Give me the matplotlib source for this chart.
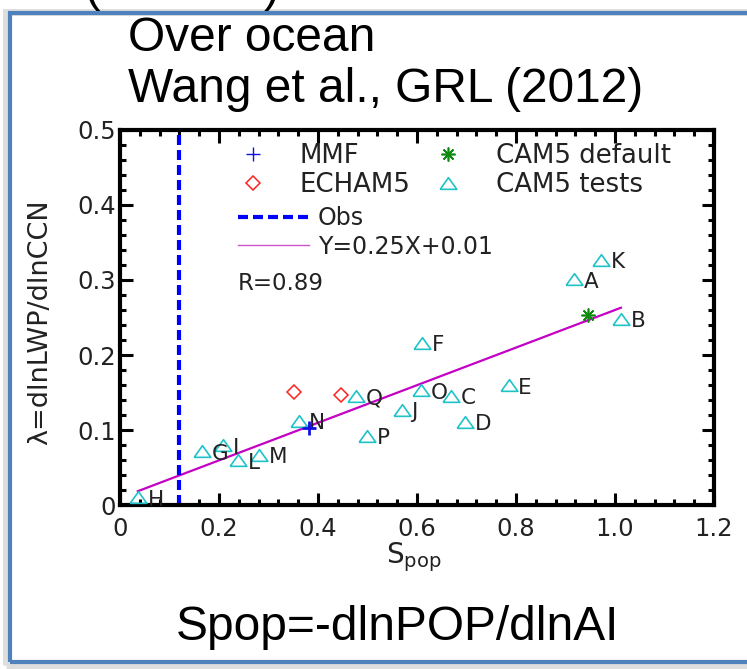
import numpy as np
import matplotlib
matplotlib.use('Agg')
import matplotlib.pyplot as plt
from matplotlib.patches import Rectangle
from matplotlib.ticker import MultipleLocator
from matplotlib.lines import Line2D

plt.rcParams['font.family'] = 'DejaVu Sans'
plt.rcParams['text.color'] = '#222222'
plt.rcParams['axes.labelcolor'] = '#222222'
plt.rcParams['xtick.color'] = 'black'
plt.rcParams['ytick.color'] = 'black'
plt.rcParams['xtick.labelcolor'] = '#222222'
plt.rcParams['ytick.labelcolor'] = '#222222'

# CAM5 sensitivity tests
tests = ['A', 'B', 'C', 'D', 'E', 'F', 'G', 'H', 'I', 'J', 'K', 'L', 'M', 'N', 'O', 'P', 'Q']
tests_x = [0.918, 1.012, 0.669, 0.697, 0.785, 0.610, 0.166, 0.036, 0.209,
           0.569, 0.972, 0.239, 0.281, 0.362, 0.608, 0.500, 0.477]
tests_y = [0.301, 0.248, 0.146, 0.111, 0.160, 0.216, 0.072, 0.011, 0.080,
           0.127, 0.327, 0.060, 0.067, 0.113, 0.153, 0.093, 0.146]

mmf_x = [0.381]
mmf_y = [0.103]
echam_x = [0.351, 0.446]
echam_y = [0.151, 0.147]
cam5_x = [0.946]
cam5_y = [0.253]

obs_spop = 0.12
fit_slope = 0.25
fit_icept = 0.01
fit_r = 0.89

xticks = [0, 0.2, 0.4, 0.6, 0.8, 1.0, 1.2]
xticklabels = ['0', '0.2', '0.4', '0.6', '0.8', '1.0', '1.2']
yticks = [0, 0.1, 0.2, 0.3, 0.4, 0.5]
yticklabels = ['0', '0.1', '0.2', '0.3', '0.4', '0.5']

cyan = '#1ec3c8'
tri = [(-1, -0.7), (1, -0.7), (0, 0.7), (-1, -0.7)]

fig = plt.figure(figsize=(7.47, 6.69), dpi=100)

# slide frame
fig.patches.append(Rectangle((0.0134 - 0.006, 0.0105 - 0.004), 1.0, 0.975, transform=fig.transFigure,
                             fill=False, edgecolor='#dedede', lw=5, zorder=0))
fig.patches.append(Rectangle((0.0134, 0.0105), 1.0, 0.97, transform=fig.transFigure,
                             fill=False, edgecolor='#4f81bd', lw=3, zorder=1))

ax = fig.add_axes([0.1606, 0.2444, 0.7952, 0.5620])

xs = np.array([min(tests_x), max(tests_x)])
ax.plot(xs, fit_slope * xs + fit_icept, color='#c400c4', lw=1.6, zorder=2)
ax.axvline(obs_spop, color='#0000ff', lw=3, linestyle=(0, (2.4, 1.2)), zorder=2)

ax.plot(tests_x, tests_y, linestyle='none', marker=tri, markersize=12,
        markerfacecolor='none', markeredgecolor=cyan, markeredgewidth=1.2, zorder=3)
for name, x, y in zip(tests, tests_x, tests_y):
    ax.annotate(name, (x, y), xytext=(7, -1.7), textcoords='offset points',
                ha='left', va='center', fontsize=15.5, color='#222222')
ax.plot(mmf_x, mmf_y, linestyle='none', marker='+', markersize=10,
        color='#1010e0', markeredgewidth=2, zorder=4)
ax.plot(echam_x, echam_y, linestyle='none', marker='D', markersize=7.5,
        markerfacecolor='none', markeredgecolor='#ff2020', markeredgewidth=1.1, zorder=4)
ax.plot(cam5_x, cam5_y, linestyle='none', marker=(8, 2, 0), markersize=10,
        color='#108a10', markeredgewidth=1.2, zorder=4)

ax.set_xlim(0, 1.2)
ax.set_ylim(0, 0.5)
ax.set_xticks(xticks)
ax.set_xticklabels(xticklabels)
ax.set_yticks(yticks)
ax.set_yticklabels(yticklabels)
ax.xaxis.set_minor_locator(MultipleLocator(0.04))
ax.yaxis.set_minor_locator(MultipleLocator(0.02))
ax.tick_params(which='both', direction='in', top=True, right=True, width=2.2)
ax.tick_params(which='major', length=9, labelsize=17.5, pad=3)
ax.tick_params(which='minor', length=4.5)
ax.tick_params(axis='x', which='major', pad=8)
for sp in ax.spines.values():
    sp.set_linewidth(3)

# legends
h_mmf = Line2D([], [], linestyle='none', marker='+', markersize=10, color='#1010e0', markeredgewidth=1)
h_ech = Line2D([], [], linestyle='none', marker='D', markersize=7.5, markerfacecolor='none',
               markeredgecolor='#ff2020', markeredgewidth=1.1)
h_cam = Line2D([], [], linestyle='none', marker=(8, 2, 0), markersize=10, color='#108a10',
               markeredgewidth=1.2)
h_tst = Line2D([], [], linestyle='none', marker=tri, markersize=12, markerfacecolor='none',
               markeredgecolor=cyan, markeredgewidth=1.2)
leg1 = ax.legend([h_mmf, h_ech, h_cam, h_tst], ['MMF', 'ECHAM5', 'CAM5 default', 'CAM5 tests'],
                 ncol=2, loc='upper left', bbox_to_anchor=(0.1795, 0.965), frameon=False,
                 fontsize=18.7, borderpad=0, borderaxespad=0, handlelength=2, handletextpad=0.82,
                 columnspacing=0.45, labelspacing=0.14)
ax.add_artist(leg1)
h_obs = Line2D([], [], color='#0000ff', lw=3, linestyle=(0, (2.4, 1.2)))
h_fit = Line2D([], [], color='#cc55cc', lw=1)
ax.legend([h_obs, h_fit], ['Obs', 'Y=%.2fX+%.2f' % (fit_slope, fit_icept)],
          loc='upper left', bbox_to_anchor=(0.1992, 0.7965), frameon=False,
          fontsize=17, borderpad=0, borderaxespad=0, handlelength=3.0, handletextpad=0.38,
          labelspacing=0.2)
ax.text(0.1975, 0.590, 'R=%.2f' % fit_r, transform=ax.transAxes, fontsize=16.5,
        ha='left', va='center')

fig.text(40 / 747, 1 - 322 / 669, 'λ=dlnLWP/dlnCCN', rotation=90, ha='center', va='center',
         fontsize=19.5)
fig.text(414 / 747, 1 - 563 / 669, r'S$_{\mathrm{pop}}$', ha='center', va='baseline', fontsize=20)

# slide texts
fig.text(128 / 747, 1 - 51 / 669, 'Over ocean', family='Liberation Sans', fontsize=34.5,
         color='black', va='baseline')
fig.text(128 / 747, 1 - 102 / 669, 'Wang et al., GRL (2012)', family='Liberation Sans',
         fontsize=34.5, color='black', va='baseline')
fig.text(176 / 747, 1 - 640 / 669, 'Spop=-dlnPOP/dlnAI', family='Liberation Sans',
         fontsize=34.5, color='black', va='baseline')
fig.text(84 / 747, 1 - 1 / 669, '(', family='Liberation Sans', fontsize=34, color='black',
         va='baseline')
fig.text(264 / 747, 1 - 1 / 669, ')', family='Liberation Sans', fontsize=34, color='black',
         va='baseline')

fig.savefig('out.png', dpi=100)
